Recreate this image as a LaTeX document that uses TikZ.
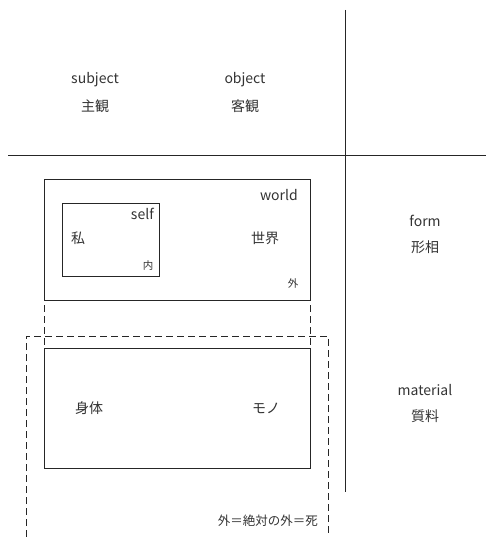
\documentclass[tikz,border=0pt]{standalone}
\usepackage{fontspec}
\setmainfont{Noto Sans CJK JP}
\begin{document}
\begin{tikzpicture}[x=1pt,y=-1pt,
  lbl/.style={inner sep=0pt,font=\fontsize{14}{16}\selectfont,text=black!80},
  sm/.style={inner sep=0pt,font=\fontsize{10.5}{12}\selectfont,text=black!80},
  foot/.style={inner sep=0pt,font=\fontsize{12.5}{14}\selectfont,text=black!80},
  solidline/.style={draw=black!85,line width=0.8pt},
  dashline/.style={draw=black!85,line width=0.7pt,dash pattern=on 7pt off 4pt}]
\useasboundingbox (0,0) rectangle (486,537);
% axes
\coordinate (vtop) at (345,10);
\coordinate (vbot) at (345,492);
\coordinate (hl) at (8,155);
\coordinate (hr) at (486,155);
\draw[solidline] (vtop) -- (vbot);
\draw[solidline] (hl) -- (hr);
% header labels
\node[lbl] (subj) at (95,80) {subject};
\node[lbl] (subjj) at (95,106) {主観};
\node[lbl] (obj) at (245,80) {object};
\node[lbl] (objj) at (245,106) {客観};
\node[lbl] (form) at (425,221) {form};
\node[lbl] (formj) at (425,247) {形相};
\node[lbl] (mat) at (425,390) {material};
\node[lbl] (matj) at (425,416) {質料};
% world box
\coordinate (wtl) at (44,179);
\coordinate (wbr) at (310,300);
\draw[solidline] (wtl) rectangle (wbr);
\coordinate (stl) at (62,203);
\coordinate (sbr) at (159,276);
\draw[solidline] (stl) rectangle (sbr);
\node[lbl,anchor=east] (self) at (154,214) {self};
\node[lbl] (watashi) at (78,238) {私};
\node[sm] (uchi) at (148,266) {内};
\node[lbl,anchor=east] (world) at (298,195) {world};
\node[lbl] (sekai) at (265,238) {世界};
\node[sm] (soto) at (293,283) {外};
% body box
\coordinate (btl) at (44,348);
\coordinate (bbr) at (310,468);
\draw[solidline] (btl) rectangle (bbr);
\node[lbl] (shintai) at (89,408) {身体};
\node[lbl] (mono) at (266,408) {モノ};
% dashed connectors
\coordinate (d1a) at (44,305);
\coordinate (d1b) at (44,348);
\coordinate (d2a) at (310,305);
\coordinate (d2b) at (310,348);
\draw[dashline] (d1a) -- (d1b);
\draw[dashline] (d2a) -- (d2b);
\coordinate (obl) at (26,537);
\coordinate (otl) at (26,336);
\coordinate (otr) at (328,336);
\coordinate (obr) at (328,537);
\draw[dashline] (obl) -- (otl) -- (otr) -- (obr);
\node[foot,anchor=east] (death) at (318,521) {外＝絶対の外＝死};
\end{tikzpicture}
\end{document}
